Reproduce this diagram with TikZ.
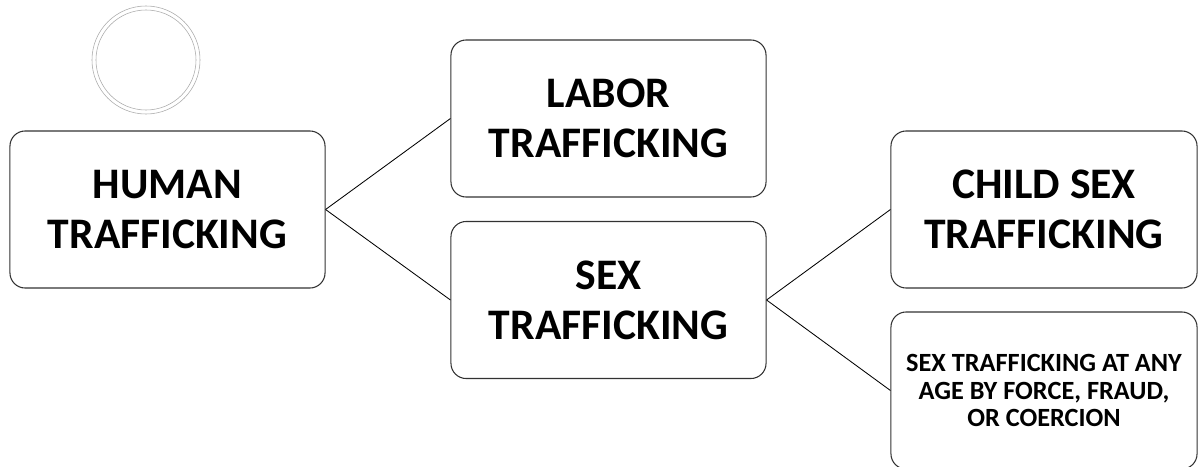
\documentclass[tikz,border=0pt]{standalone}
\usepackage{fontspec}
\setmainfont{Carlito}
\usepackage{tikz}
\definecolor{edge}{RGB}{50,50,50}
\definecolor{ring}{RGB}{170,170,170}
\newcommand{\bigtext}{\fontsize{31}{35.5}\selectfont\bfseries}
\newcommand{\smalltext}{\fontsize{18.7}{19.5}\selectfont\bfseries}
\tikzset{
  tbox/.style={draw=edge, line width=0.75pt, rounded corners=0.38cm,
    minimum width=7.875cm, minimum height=3.925cm, align=center,
    inner sep=0pt, font=\bigtext},
  nbox/.style={tbox, minimum width=7.65cm},
  link/.style={draw=black, line width=0.6pt}
}

\begin{document}
\begin{tikzpicture}[x=0.025cm,y=-0.025cm]
\clip (0,0) rectangle (1198,467);
\draw[ring, line width=0.4pt] (146,60) circle (1.35cm);
    \draw[ring, line width=0.4pt] (146,60) circle (1.25cm);
\node[tbox] (human) at (167.5,209.5) {HUMAN\\TRAFFICKING};
    \node[tbox] (labor) at (608.5,118.5) {LABOR\\TRAFFICKING};
    \node[tbox] (sex) at (608.5,300) {SEX\\TRAFFICKING};
    \node[nbox] (child) at (1044,209.5) {CHILD SEX\\TRAFFICKING};
    \node[nbox, font=\smalltext] (force) at (1044,390.5) {SEX TRAFFICKING AT ANY\\AGE BY FORCE, FRAUD,\\OR COERCION};
\draw[link] (human.east) -- (labor.west);
    \draw[link] (human.east) -- (sex.west);
    \draw[link] (sex.east) -- (child.west);
    \draw[link] (sex.east) -- (force.west);
\end{tikzpicture}
\end{document}
